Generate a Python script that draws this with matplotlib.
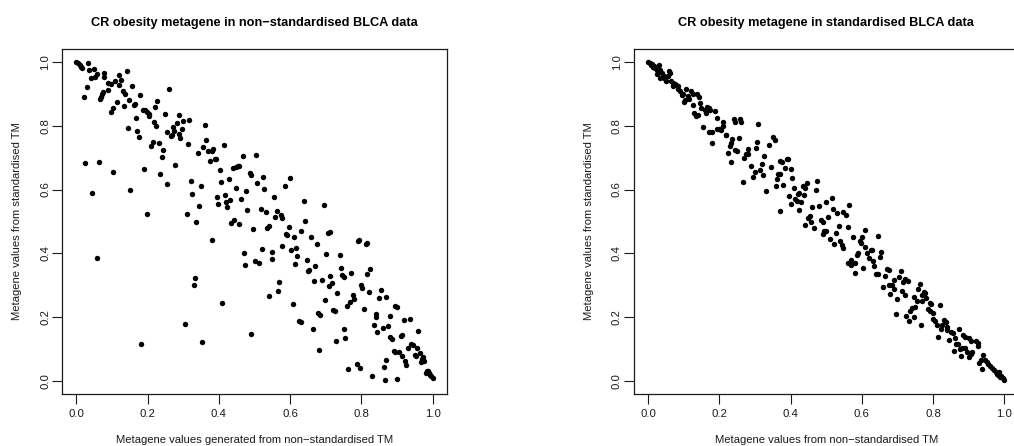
import matplotlib
matplotlib.use("Agg")
import matplotlib.pyplot as plt

plt.rcParams['font.family'] = ['Liberation Sans', 'DejaVu Sans']

# ---------------- data: left panel (non-standardised) ----------------
left_x = [0.000, 0.005, 0.010, 0.013, 0.017, 0.033, 0.037, 0.049, 0.040, 0.052,
          0.059, 0.029, 0.022, 0.079, 0.078, 0.090, 0.097, 0.067, 0.069, 0.072,
          0.075, 0.090, 0.097, 0.024, 0.065, 0.045, 0.057,
          0.102, 0.104, 0.109, 0.121, 0.125, 0.119, 0.130, 0.137, 0.133, 0.115,
          0.141, 0.156, 0.149, 0.162, 0.165, 0.144, 0.151, 0.167, 0.171, 0.175,
          0.179, 0.187, 0.194, 0.198, 0.191, 0.183, 0.198,
          0.204, 0.205, 0.217, 0.210, 0.214, 0.224, 0.221, 0.227, 0.231, 0.240,
          0.242, 0.236, 0.248, 0.259, 0.255, 0.254, 0.265, 0.268, 0.270, 0.273,
          0.278, 0.283, 0.287, 0.289, 0.292, 0.296, 0.300,
          0.314, 0.317, 0.310, 0.323, 0.326, 0.306, 0.330, 0.333, 0.337, 0.341,
          0.345, 0.350, 0.352, 0.356, 0.360, 0.365, 0.370, 0.375, 0.380, 0.383,
          0.380, 0.390, 0.393, 0.394, 0.398,
          0.402, 0.405, 0.410, 0.414, 0.418, 0.420, 0.423, 0.428, 0.432, 0.435,
          0.440, 0.443, 0.447, 0.449, 0.453, 0.456, 0.456, 0.462, 0.467, 0.470,
          0.474, 0.477, 0.480, 0.486, 0.490, 0.490, 0.497,
          0.500, 0.505, 0.508, 0.512, 0.517, 0.520, 0.525, 0.528, 0.532, 0.535,
          0.540, 0.540, 0.548, 0.550, 0.554, 0.558, 0.563, 0.565, 0.568, 0.573,
          0.578, 0.578, 0.585, 0.589, 0.592, 0.597,
          0.600, 0.603, 0.607, 0.610, 0.613, 0.617, 0.620, 0.625, 0.630, 0.630,
          0.640, 0.643, 0.647, 0.650, 0.654, 0.658, 0.663, 0.666, 0.670, 0.674,
          0.678, 0.683, 0.682, 0.690, 0.694, 0.698,
          0.700, 0.705, 0.713, 0.708, 0.713, 0.718, 0.720, 0.727, 0.730, 0.732,
          0.740, 0.743, 0.746, 0.752, 0.752, 0.755, 0.760, 0.763, 0.767, 0.770,
          0.775, 0.780, 0.787, 0.790, 0.793, 0.797,
          0.800, 0.802, 0.808, 0.812, 0.815, 0.815, 0.820, 0.825, 0.830, 0.835,
          0.840, 0.842, 0.843, 0.850, 0.855, 0.860, 0.862, 0.866, 0.870, 0.870,
          0.874, 0.880, 0.885, 0.880, 0.890, 0.895, 0.895, 0.900,
          0.900, 0.905, 0.910, 0.913, 0.915, 0.920, 0.922, 0.925, 0.930, 0.935,
          0.940, 0.945, 0.950, 0.953, 0.957, 0.960, 0.965, 0.968, 0.970, 0.973,
          0.975, 0.980, 0.983, 0.985, 0.988, 0.990, 0.993, 0.996, 1.000]
left_y = [1.000, 0.995, 0.990, 0.985, 0.980, 0.997, 0.975, 0.977, 0.948, 0.952,
          0.962, 0.920, 0.889, 0.965, 0.953, 0.935, 0.932, 0.885, 0.890, 0.898,
          0.905, 0.912, 0.843, 0.682, 0.686, 0.590, 0.387,
          0.655, 0.854, 0.940, 0.958, 0.943, 0.928, 0.908, 0.900, 0.862, 0.875,
          0.970, 0.923, 0.880, 0.866, 0.868, 0.794, 0.598, 0.824, 0.782, 0.763,
          0.897, 0.850, 0.848, 0.844, 0.663, 0.115, 0.522,
          0.838, 0.829, 0.813, 0.736, 0.750, 0.800, 0.858, 0.878, 0.747, 0.702,
          0.723, 0.648, 0.836, 0.916, 0.779, 0.617, 0.767, 0.770, 0.796, 0.783,
          0.678, 0.808, 0.832, 0.774, 0.760, 0.790, 0.815,
          0.743, 0.819, 0.524, 0.628, 0.586, 0.180, 0.300, 0.322, 0.498, 0.713,
          0.548, 0.612, 0.123, 0.732, 0.803, 0.755, 0.720, 0.690, 0.720, 0.727,
          0.442, 0.697, 0.695, 0.576, 0.556,
          0.660, 0.625, 0.245, 0.740, 0.583, 0.560, 0.545, 0.632, 0.568, 0.495,
          0.668, 0.505, 0.605, 0.671, 0.673, 0.675, 0.491, 0.571, 0.705, 0.402,
          0.364, 0.594, 0.537, 0.651, 0.645, 0.149, 0.475,
          0.375, 0.709, 0.620, 0.371, 0.540, 0.414, 0.640, 0.603, 0.530, 0.479,
          0.486, 0.268, 0.384, 0.406, 0.578, 0.513, 0.533, 0.284, 0.310, 0.520,
          0.510, 0.423, 0.610, 0.460, 0.458, 0.483,
          0.636, 0.411, 0.242, 0.452, 0.368, 0.418, 0.392, 0.187, 0.184, 0.471,
          0.563, 0.502, 0.380, 0.345, 0.348, 0.450, 0.165, 0.315, 0.360, 0.430,
          0.214, 0.206, 0.099, 0.317, 0.551, 0.253,
          0.399, 0.465, 0.468, 0.297, 0.330, 0.307, 0.222, 0.219, 0.126, 0.276,
          0.395, 0.356, 0.334, 0.327, 0.162, 0.134, 0.237, 0.038, 0.248, 0.340,
          0.271, 0.257, 0.053, 0.438, 0.443, 0.042,
          0.300, 0.293, 0.226, 0.430, 0.434, 0.337, 0.280, 0.352, 0.015, 0.176,
          0.200, 0.210, 0.153, 0.260, 0.287, 0.167, 0.045, 0.004, 0.068, 0.264,
          0.173, 0.139, 0.131, 0.203, 0.096, 0.093, 0.234, 0.232,
          0.006, 0.092, 0.142, 0.145, 0.078, 0.191, 0.062, 0.050, 0.104, 0.195,
          0.118, 0.112, 0.082, 0.080, 0.105, 0.157, 0.088, 0.060, 0.070, 0.075,
          0.063, 0.025, 0.033, 0.028, 0.032, 0.025, 0.020, 0.015, 0.010]

# ---------------- data: right panel (standardised) ----------------
right_x = [0.000, 0.005, 0.008, 0.010, 0.012, 0.013, 0.015, 0.018, 0.020, 0.025,
           0.030, 0.025, 0.035, 0.040, 0.045, 0.035, 0.045, 0.050, 0.058, 0.062,
           0.055, 0.065, 0.070, 0.070, 0.075, 0.080, 0.085, 0.085, 0.090, 0.095,
           0.098, 0.100, 0.105, 0.108, 0.112, 0.115, 0.120, 0.125, 0.125, 0.130,
           0.135, 0.140, 0.138, 0.143, 0.145, 0.150, 0.153, 0.160, 0.165, 0.163,
           0.170, 0.175, 0.172, 0.180, 0.180, 0.188, 0.195, 0.195, 0.200, 0.205,
           0.210, 0.210, 0.218, 0.220, 0.225, 0.230, 0.233, 0.235, 0.233, 0.240,
           0.245, 0.245, 0.250, 0.255, 0.258, 0.260, 0.268, 0.270, 0.275, 0.280,
           0.280, 0.290, 0.295, 0.300, 0.302, 0.305, 0.310, 0.315, 0.320, 0.323,
           0.325, 0.330, 0.340, 0.345, 0.350, 0.355, 0.360, 0.362, 0.365, 0.370,
           0.370, 0.375, 0.370, 0.380, 0.385, 0.390, 0.393, 0.395, 0.400, 0.400,
           0.405, 0.410, 0.413, 0.417, 0.420, 0.425, 0.425, 0.430, 0.435, 0.437,
           0.440, 0.445, 0.440, 0.450, 0.455, 0.458, 0.460, 0.465, 0.470, 0.475,
           0.480, 0.485, 0.490, 0.490, 0.495, 0.500, 0.500, 0.505, 0.510, 0.515,
           0.520, 0.522, 0.528, 0.530, 0.535, 0.540, 0.545, 0.548, 0.548, 0.555,
           0.560, 0.562, 0.570, 0.565, 0.570, 0.575, 0.580, 0.582, 0.585, 0.590,
           0.595, 0.598, 0.600, 0.603, 0.608, 0.610, 0.615, 0.620, 0.625, 0.628,
           0.630, 0.635, 0.640, 0.645, 0.645, 0.650, 0.655, 0.660, 0.665, 0.670,
           0.675, 0.675, 0.680, 0.685, 0.690, 0.690, 0.695, 0.700, 0.705, 0.710,
           0.712, 0.715, 0.720, 0.720, 0.730, 0.725, 0.732, 0.735, 0.740, 0.745,
           0.745, 0.750, 0.755, 0.758, 0.762, 0.765, 0.768, 0.770, 0.775, 0.778,
           0.780, 0.785, 0.790, 0.790, 0.795, 0.800, 0.800, 0.805, 0.810, 0.815,
           0.820, 0.822, 0.826, 0.830, 0.835, 0.838, 0.840, 0.845, 0.850, 0.855,
           0.858, 0.860, 0.865, 0.870, 0.872, 0.875, 0.878, 0.880, 0.885, 0.890,
           0.890, 0.895, 0.900, 0.905, 0.900, 0.905, 0.910, 0.920, 0.925, 0.925,
           0.930, 0.935, 0.938, 0.940, 0.945, 0.950, 0.955, 0.960, 0.965, 0.970,
           0.975, 0.978, 0.980, 0.982, 0.985, 0.988, 0.990, 0.995, 1.000]
right_y = [1.000, 0.997, 0.990, 0.993, 0.990, 0.983, 0.985, 0.988, 0.980, 0.975,
           0.990, 0.962, 0.975, 0.965, 0.955, 0.950, 0.948, 0.940, 0.972, 0.965,
           0.955, 0.940, 0.935, 0.925, 0.930, 0.928, 0.925, 0.915, 0.910, 0.895,
           0.900, 0.875, 0.880, 0.915, 0.892, 0.885, 0.910, 0.900, 0.865, 0.840,
           0.830, 0.833, 0.900, 0.890, 0.870, 0.855, 0.797, 0.850, 0.860, 0.840,
           0.855, 0.850, 0.780, 0.746, 0.780, 0.845, 0.825, 0.790, 0.790, 0.785,
           0.813, 0.800, 0.770, 0.770, 0.715, 0.735, 0.745, 0.758, 0.685, 0.820,
           0.810, 0.725, 0.720, 0.762, 0.822, 0.812, 0.624, 0.700, 0.710, 0.712,
           0.728, 0.673, 0.640, 0.656, 0.730, 0.750, 0.805, 0.660, 0.680, 0.645,
           0.705, 0.594, 0.738, 0.670, 0.765, 0.755, 0.612, 0.632, 0.648, 0.650,
           0.690, 0.685, 0.533, 0.615, 0.667, 0.695, 0.697, 0.580, 0.665, 0.555,
           0.637, 0.605, 0.570, 0.565, 0.587, 0.590, 0.535, 0.560, 0.610, 0.582,
           0.605, 0.620, 0.490, 0.510, 0.516, 0.497, 0.545, 0.480, 0.598, 0.628,
           0.548, 0.505, 0.500, 0.460, 0.470, 0.562, 0.470, 0.515, 0.445, 0.575,
           0.540, 0.430, 0.465, 0.527, 0.487, 0.438, 0.425, 0.418, 0.530, 0.520,
           0.483, 0.370, 0.365, 0.552, 0.380, 0.450, 0.340, 0.370, 0.395, 0.400,
           0.440, 0.432, 0.452, 0.355, 0.474, 0.420, 0.400, 0.385, 0.410, 0.410,
           0.375, 0.360, 0.335, 0.337, 0.455, 0.390, 0.405, 0.295, 0.330, 0.350,
           0.349, 0.300, 0.272, 0.300, 0.318, 0.288, 0.210, 0.258, 0.325, 0.345,
           0.284, 0.310, 0.320, 0.270, 0.315, 0.205, 0.188, 0.220, 0.230, 0.265,
           0.200, 0.233, 0.250, 0.290, 0.305, 0.175, 0.270, 0.250, 0.280, 0.275,
           0.260, 0.226, 0.220, 0.245, 0.243, 0.215, 0.195, 0.190, 0.175, 0.140,
           0.238, 0.165, 0.175, 0.192, 0.185, 0.160, 0.170, 0.128, 0.155, 0.150,
           0.095, 0.135, 0.118, 0.115, 0.165, 0.100, 0.078, 0.105, 0.145, 0.138,
           0.105, 0.092, 0.135, 0.127, 0.075, 0.085, 0.090, 0.125, 0.120, 0.110,
           0.058, 0.065, 0.038, 0.083, 0.068, 0.060, 0.055, 0.048, 0.042, 0.035,
           0.030, 0.022, 0.026, 0.020, 0.028, 0.012, 0.015, 0.010, 0.005]

titles = ["CR obesity metagene in non\u2212standardised BLCA data",
          "CR obesity metagene in standardised BLCA data"]
xlabels = ["Metagene values generated from non\u2212standardised TM",
           "Metagene values from non\u2212standardised TM"]
ylabel = "Metagene values from standardised TM"
ticks = [0.0, 0.2, 0.4, 0.6, 0.8, 1.0]
tick_labels = ["0.0", "0.2", "0.4", "0.6", "0.8", "1.0"]

W, H = 1014, 446
fig = plt.figure(figsize=(W / 100, H / 100), dpi=100)

panels = [(left_x, left_y, 62), (right_x, right_y, 633.7)]
ax_w, ax_top, ax_bot = 385, 49, 394
ink = '#1a1a1a'

for i, (xs, ys, x0) in enumerate(panels):
    ax = fig.add_axes([x0 / W, (H - ax_bot) / H, ax_w / W, (ax_bot - ax_top) / H])
    ax.plot(xs, ys, 'o', color='black', ms=3.9, mew=0)
    ax.set_xlim(-0.04, 1.04)
    ax.set_ylim(-0.04, 1.04)
    ax.set_xticks(ticks)
    ax.set_xticklabels(tick_labels)
    ax.set_yticks(ticks)
    ax.set_yticklabels(tick_labels, rotation=90, va='center')
    ax.tick_params(direction='out', length=7, width=0.8, labelsize=8.2,
                   colors=ink, pad=4)
    ax.tick_params(axis='y', pad=1.5)
    for s in ax.spines.values():
        s.set_linewidth(0.9)
        s.set_color(ink)
    cx = (x0 + ax_w / 2) / W
    fig.text(cx, 1 - 23 / H, titles[i], ha='center', va='center',
             fontsize=9.2, fontweight='bold')
    fig.text(cx, 1 - 440 / H, xlabels[i], ha='center', va='center',
             fontsize=8.1, color=ink)
    fig.text((x0 - 45) / W, 1 - 221.5 / H, ylabel, ha='center', va='center',
             rotation=90, fontsize=8.1, color=ink)

fig.savefig("out.png", dpi=100)
